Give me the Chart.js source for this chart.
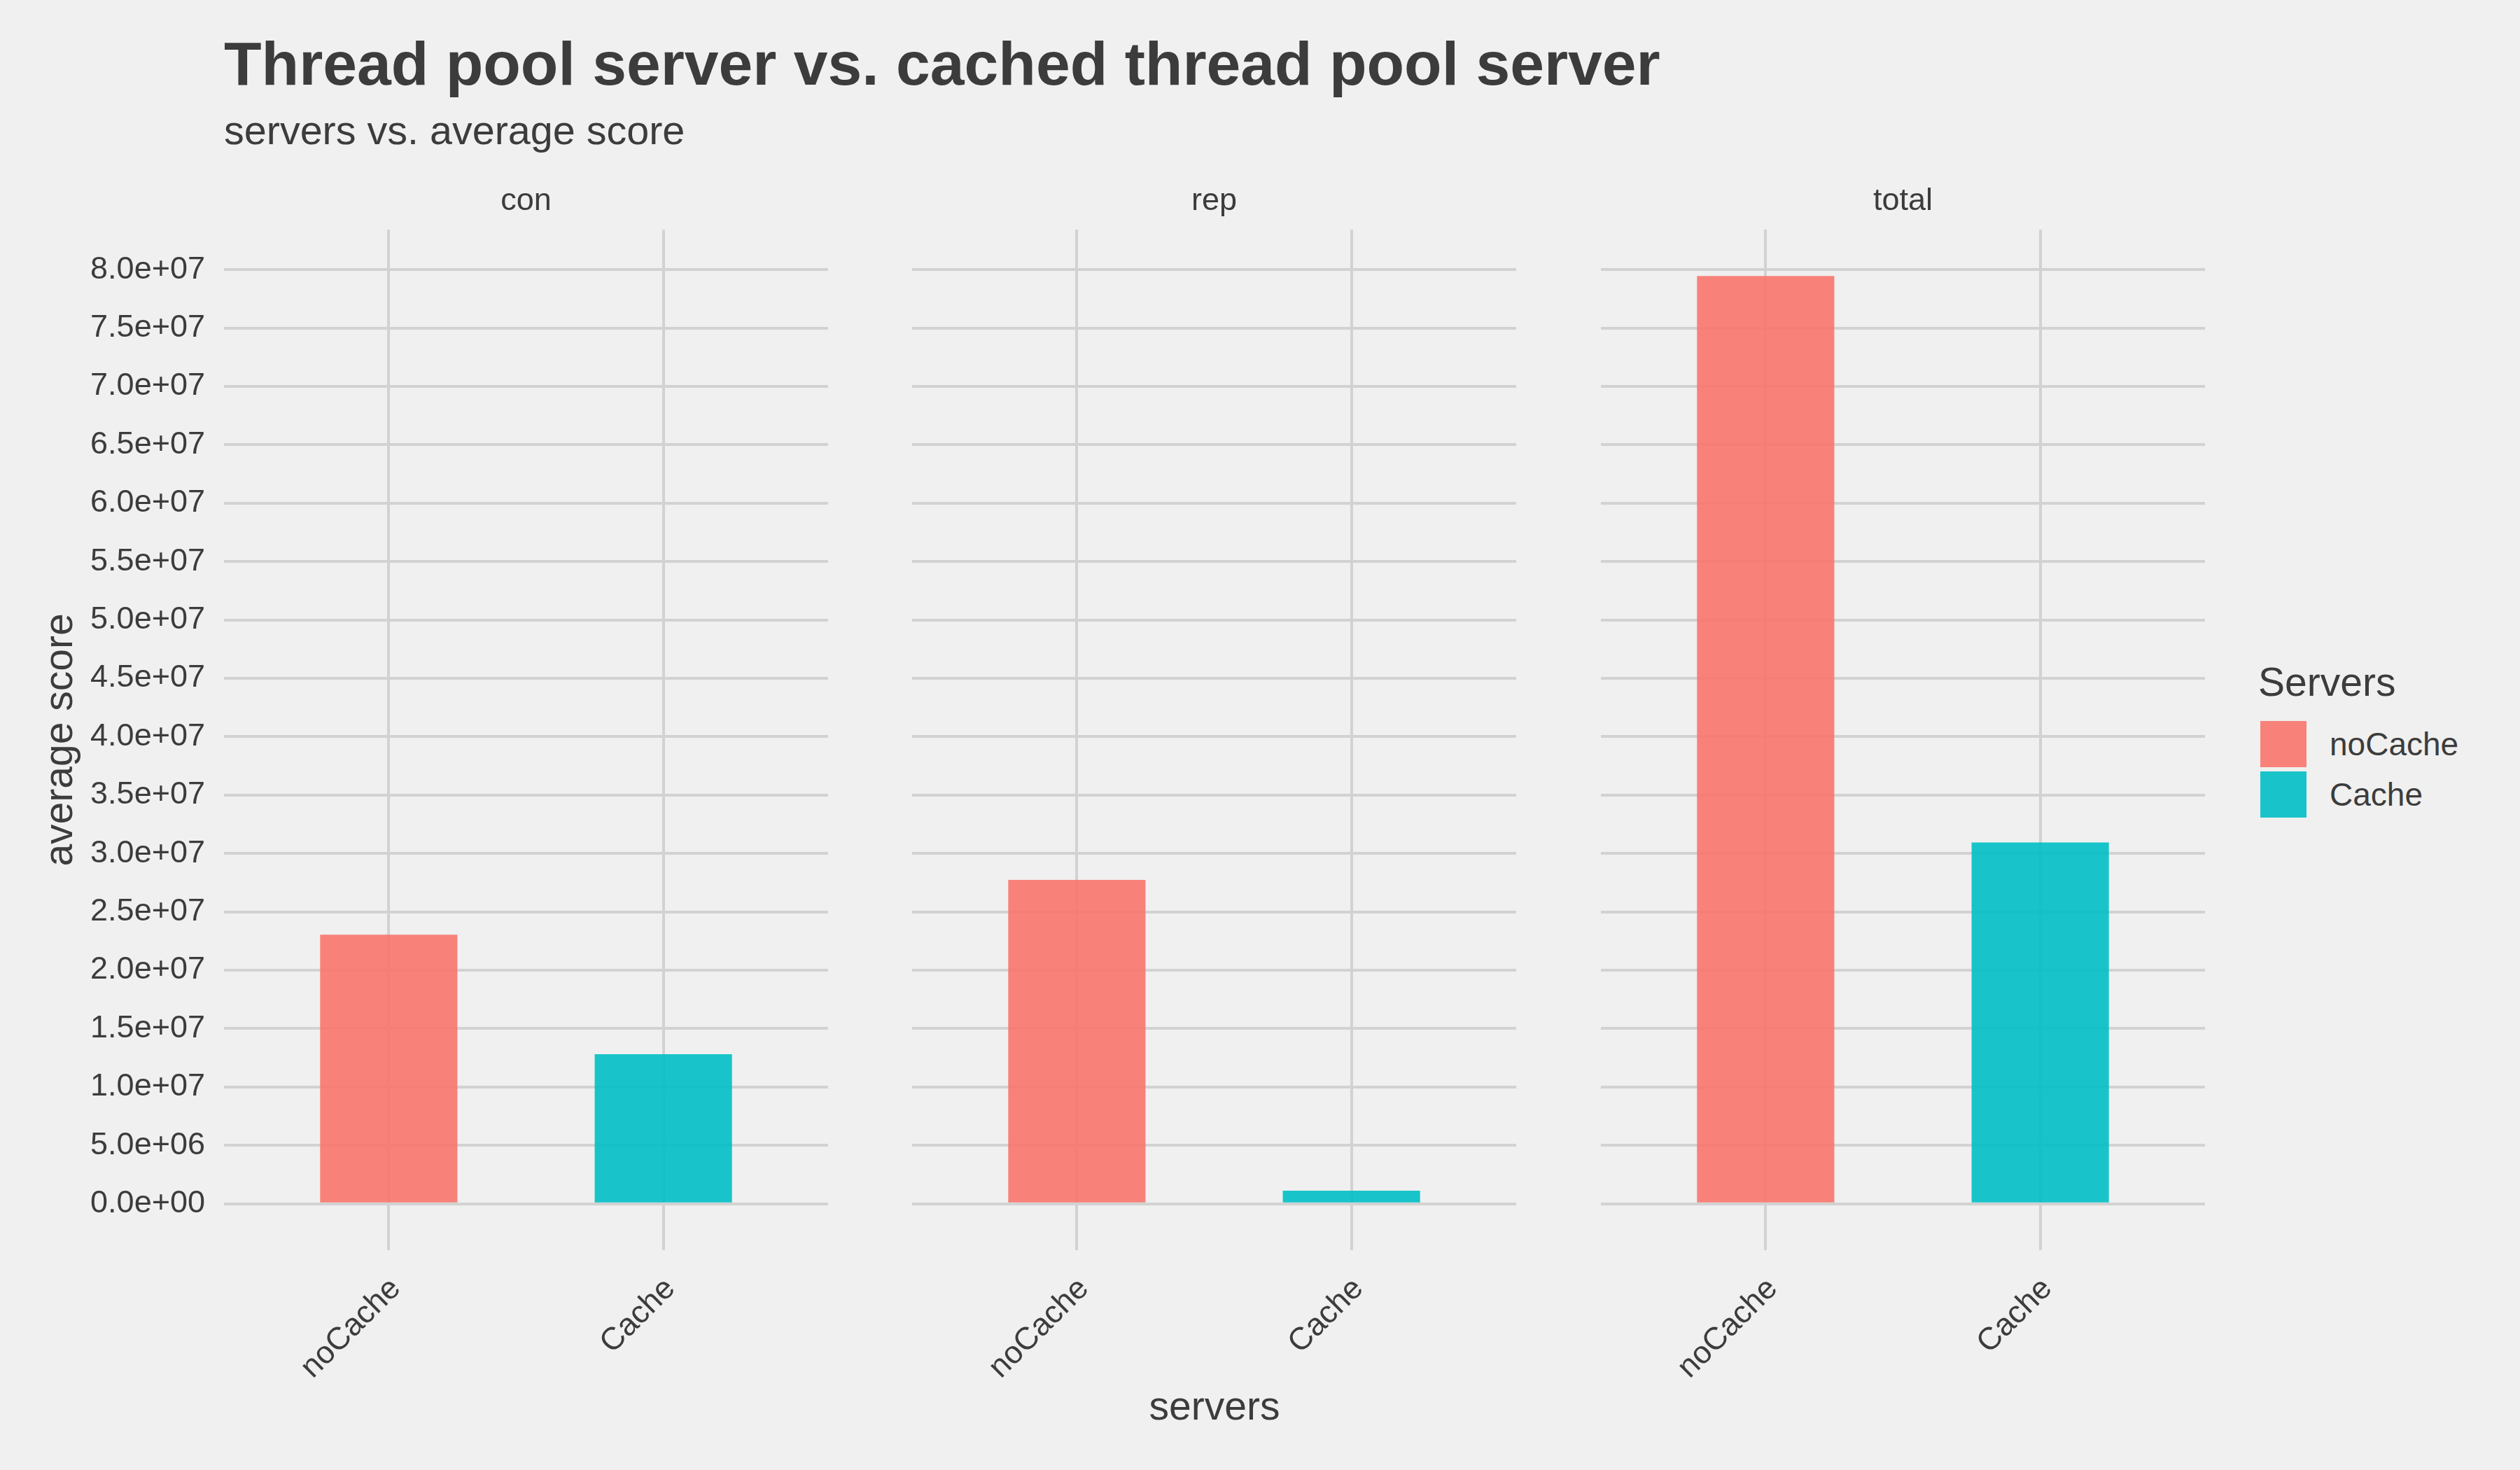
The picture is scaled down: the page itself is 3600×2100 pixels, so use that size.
<!DOCTYPE html>
<html><head><meta charset="utf-8">
<script src="https://cdn.jsdelivr.net/npm/chart.js@4.4.1/dist/chart.umd.min.js"></script>
<style>
html,body{margin:0;padding:0;background:#F0F0F0;}
body{width:3600px;height:2100px;position:relative;overflow:hidden;font-family:"Liberation Sans",Arial,sans-serif;color:#3C3C3C;}
.t{position:absolute;white-space:nowrap;line-height:1;}
canvas{position:absolute;}
.key{position:absolute;width:66px;height:66px;}
</style></head><body>
<div class="t" style="left:320px;top:48px;font-size:87.7px;font-weight:bold;">Thread pool server vs. cached thread pool server</div>
<div class="t" style="left:320px;top:158px;font-size:57.5px;">servers vs. average score</div>
<div class="t" style="left:83px;top:1057px;font-size:57px;transform:translate(-50%,-50%) rotate(-90deg);">average score</div>
<div class="t" style="left:1735px;top:1980px;font-size:57px;transform:translateX(-50%);">servers</div>
<div class="t" style="left:3226px;top:946px;font-size:57px;">Servers</div>
<div id="legend"></div>
<canvas id="c0" width="1183" height="1870" style="left:0px;top:230px"></canvas>
<canvas id="c1" width="863" height="1870" style="left:1303px;top:230px"></canvas>
<canvas id="c2" width="863" height="1870" style="left:2287px;top:230px"></canvas>
<script>
// ---- data ----
const facets = ['con', 'rep', 'total'];
const categories = ['noCache', 'Cache'];
const noCacheValues = [23050000, 27730000, 79450000];
const cacheValues = [12810000, 1120000, 30950000];
const yTickValues = [0, 5e6, 1e7, 1.5e7, 2e7, 2.5e7, 3e7, 3.5e7, 4e7, 4.5e7, 5e7, 5.5e7, 6e7, 6.5e7, 7e7, 7.5e7, 8e7];
const yTickLabels = ['0.0e+00','5.0e+06','1.0e+07','1.5e+07','2.0e+07','2.5e+07','3.0e+07','3.5e+07','4.0e+07','4.5e+07','5.0e+07','5.5e+07','6.0e+07','6.5e+07','7.0e+07','7.5e+07','8.0e+07'];
const seriesColors = ['rgba(248,118,109,0.9)', 'rgba(0,191,196,0.9)'];

// ---- shared scale (ggplot-like 5% expansion) ----
const dataMax = Math.max(...noCacheValues, ...cacheValues);
const yMin = -0.05 * dataMax;
const yMax = dataMax * 1.05;

const FONT = '"Liberation Sans", Arial, sans-serif';
const TEXT = '#3C3C3C';
const GRID = '#D2D2D2';

// legend
const leg = document.getElementById('legend');
categories.forEach((c, i) => {
  const k = document.createElement('div');
  k.className = 'key';
  k.style.left = '3229px';
  k.style.top = (1030 + i * 72) + 'px';
  k.style.background = seriesColors[i];
  leg.appendChild(k);
  const l = document.createElement('div');
  l.className = 't';
  l.style.left = '3328px';
  l.style.top = (1040 + i * 72) + 'px';
  l.style.fontSize = '46px';
  l.textContent = c;
  leg.appendChild(l);
});

facets.forEach((f, fi) => {
  const first = fi === 0;
  new Chart(document.getElementById('c' + fi), {
    type: 'bar',
    data: {
      datasets: [
        { label: categories[0], data: [{x: 1, y: noCacheValues[fi]}], backgroundColor: seriesColors[0], borderWidth: 0, grouped: false, categoryPercentage: 1, barPercentage: 0.5 },
        { label: categories[1], data: [{x: 2, y: cacheValues[fi]}], backgroundColor: seriesColors[1], borderWidth: 0, grouped: false, categoryPercentage: 1, barPercentage: 0.5 }
      ]
    },
    options: {
      responsive: false,
      animation: false,
      devicePixelRatio: 1,
      layout: { padding: 0 },
      plugins: {
        legend: { display: false },
        tooltip: { enabled: false },
        title: {
          display: true, text: f, fullSize: false, color: TEXT,
          font: { size: 45, family: FONT, weight: 'normal', lineHeight: 1.2 },
          padding: { top: 31, bottom: 13 }
        }
      },
      scales: {
        x: {
          type: 'linear', min: 0.4, max: 2.6, offset: false,
          afterBuildTicks: s => { s.ticks = categories.map((c, i) => ({ value: i + 1 })); },
          afterFit: s => { s.height = 314; },
          grid: { color: GRID, lineWidth: 4, drawTicks: false, offset: false },
          border: { display: false },
          ticks: {
            autoSkip: false, minRotation: 45, maxRotation: 45, padding: 29, labelOffset: 10, color: TEXT,
            font: { size: 45, family: FONT },
            callback: v => categories[Math.round(v) - 1]
          }
        },
        y: {
          type: 'linear', min: yMin, max: yMax,
          afterBuildTicks: s => { s.ticks = yTickValues.map(v => ({ value: v })); },
          afterFit: s => { s.width = first ? 320 : 0; },
          grid: { color: GRID, lineWidth: 4, drawTicks: false },
          border: { display: false },
          ticks: {
            display: first, padding: 27, color: TEXT,
            font: { size: 45, family: FONT },
            callback: (v) => yTickLabels[yTickValues.indexOf(v)]
          }
        }
      }
    }
  });
});
</script>
</body></html>
